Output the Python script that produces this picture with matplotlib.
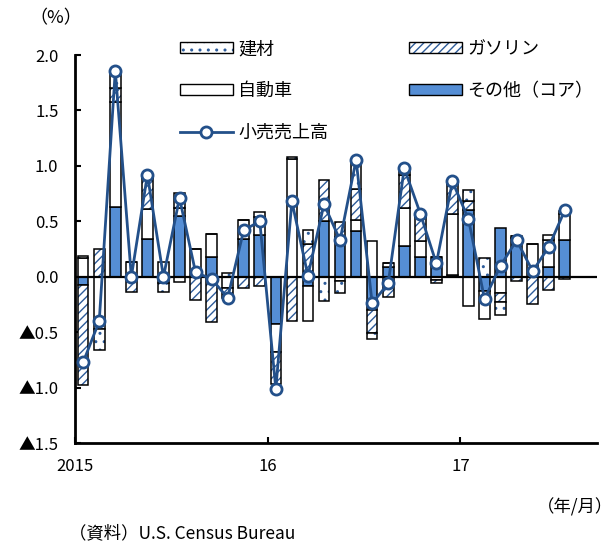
import matplotlib
matplotlib.use("Agg")
import matplotlib.pyplot as plt
from matplotlib.patches import Patch
from matplotlib.lines import Line2D
import numpy as np

plt.rcParams['font.family'] = ['Noto Sans CJK JP', 'DejaVu Sans']
plt.rcParams['hatch.linewidth'] = 1.0

# 2015/1 - 2017/7, 前月比寄与度 (%)
months = [f"{y}/{m}" for y in (2015, 2016, 2017) for m in range(1, 13)][:31]

core = [-0.075, 0.0, 0.63, 0.0, 0.34, 0.0, 0.55, 0.0, 0.18, 0.0, 0.34, 0.38,
        -0.43, 0.0, -0.08, 0.50, 0.36, 0.415, -0.30, 0.085, 0.28, 0.18, 0.18, 0.02,
        0.60, -0.13, 0.44, 0.35, 0.0, 0.09, 0.335]
auto = [0.17, -0.47, 0.95, 0.13, 0.27, 0.13, 0.07, 0.25, 0.21, -0.10, 0.17, 0.16,
        -0.25, 1.06, -0.32, 0.0, -0.04, 0.10, 0.325, 0.035, 0.34, 0.145, -0.03, 0.545,
        -0.26, -0.25, -0.15, 0.015, 0.30, 0.24, 0.235]
gas = [-0.90, 0.25, 0.12, -0.14, 0.28, -0.06, 0.14, -0.21, -0.41, -0.09, -0.10, -0.08,
       -0.29, -0.40, 0.30, 0.37, 0.13, 0.275, -0.21, -0.18, 0.30, 0.21, -0.03, 0.27,
       0.08, 0.0, -0.08, -0.04, -0.25, -0.12, -0.02]
building = [0.02, -0.19, 0.13, 0.0, 0.02, -0.08, -0.05, 0.0, 0.0, 0.03, 0.0, 0.04,
            0.0, 0.02, 0.12, -0.22, -0.11, 0.265, -0.05, 0.0, 0.045, 0.03, 0.0, 0.03,
            0.10, 0.17, -0.115, 0.0, 0.0, 0.045, 0.02]
retail = [-0.77, -0.40, 1.86, 0.0, 0.92, 0.0, 0.71, 0.04, -0.02, -0.19, 0.42, 0.50,
          -1.01, 0.68, 0.01, 0.655, 0.33, 1.055, -0.24, -0.06, 0.98, 0.57, 0.12, 0.86,
          0.52, -0.20, 0.10, 0.33, 0.05, 0.27, 0.60]

year_ticks = ["2015", "16", "17"]
y_ticks = [2.0, 1.5, 1.0, 0.5, 0.0, -0.5, -1.0, -1.5]

BLUE = '#558ED5'
HATCHC = '#2E5C9A'
LINEC = '#23508A'

fig = plt.figure(figsize=(6.16, 5.45), dpi=100)
ax = fig.add_axes([0.122, 0.187, 0.847, 0.712])

x = np.arange(len(months))
w = 0.66
pos = np.zeros(len(x))
neg = np.zeros(len(x))
styles = [(core, BLUE, None), (auto, 'white', None),
          (gas, 'white', '////'), (building, 'white', '..')]
for vals, fc, hatch in styles:
    v = np.array(vals)
    bottom = np.where(v >= 0, pos, neg)
    if hatch:
        ax.bar(x, v, w, bottom=bottom, color=fc, hatch=hatch,
               edgecolor=HATCHC, linewidth=0, zorder=2)
        ax.bar(x, v, w, bottom=bottom, fill=False, edgecolor='black',
               linewidth=1.1, zorder=2)
    else:
        ax.bar(x, v, w, bottom=bottom, color=fc, edgecolor='black',
               linewidth=1.1, zorder=2)
    pos = pos + np.where(v >= 0, v, 0)
    neg = neg + np.where(v < 0, v, 0)

ax.axhline(0, color='black', lw=1.6, zorder=3)
ax.plot(x, retail, color=LINEC, lw=2, marker='o', ms=8,
        mfc='white', mec=LINEC, mew=2, zorder=4)

ax.set_xlim(-0.5, 32)
ax.set_ylim(-1.5, 2.0)
ax.set_xticks([-0.5, 11.5, 23.5])
ax.set_xticklabels(year_ticks, fontsize=12)
ax.set_yticks(y_ticks)
ax.set_yticklabels([f"{t:.1f}" if t >= 0 else f"▲{-t:.1f}" for t in y_ticks],
                   fontsize=12)
ax.tick_params(axis='both', direction='in', length=4, width=1.5)
ax.tick_params(axis='y', pad=12)
ax.tick_params(axis='x', pad=11)
for s in ('top', 'right'):
    ax.spines[s].set_visible(False)
for s in ('left', 'bottom'):
    ax.spines[s].set_linewidth(2)

def hp(hatch):
    return (Patch(facecolor='white', edgecolor=HATCHC, hatch=hatch, lw=0),
            Patch(facecolor='none', edgecolor='black', lw=1))

handles = [hp('..'), Patch(facecolor='white', edgecolor='black', lw=1),
           Line2D([], [], color=LINEC, lw=2, marker='o', ms=8, mfc='white',
                  mec=LINEC, mew=2),
           hp('////'), Patch(facecolor=BLUE, edgecolor='black', lw=1)]
labels = ['建材', '自動車', '小売売上高', 'ガソリン', 'その他（コア）']
fig.legend(handles, labels, ncol=2, loc='upper left',
           bbox_to_anchor=(0.278, 0.943), frameon=False, fontsize=13,
           handlelength=2.9, handleheight=0.55, handletextpad=0.3,
           columnspacing=4.5, labelspacing=1.32, borderpad=0)

fig.text(0.048, 0.967, '（%）', fontsize=13, ha='left', va='center')
fig.text(0.995, 0.07, '（年/月）', fontsize=12.5, ha='right', va='center')
fig.text(0.112, 0.022, '（資料）U.S. Census Bureau', fontsize=12.5,
         ha='left', va='center')

fig.savefig('out.png', dpi=100)
